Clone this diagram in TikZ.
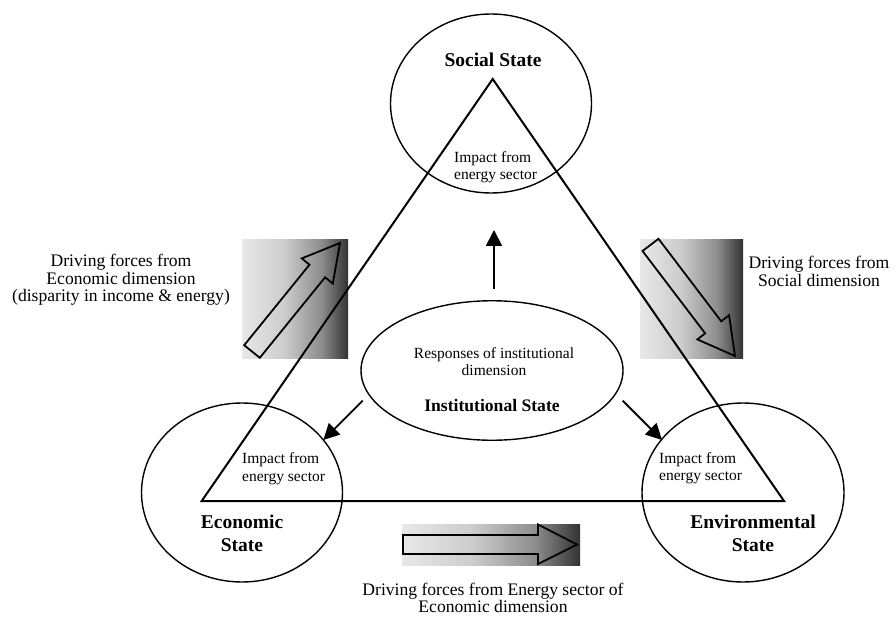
\documentclass[tikz,border=0pt]{standalone}
\usepackage{fontspec}
\setmainfont{Liberation Serif}
\usetikzlibrary{shapes.geometric,arrows.meta,calc}
\definecolor{shA}{gray}{0.91}
\definecolor{shB}{gray}{0.80}
\definecolor{shC}{gray}{0.55}
\definecolor{shD}{gray}{0.20}
\pgfdeclarehorizontalshading{drivershade}{100bp}{color(0bp)=(shA); color(25bp)=(shA); color(45bp)=(shB); color(62.5bp)=(shC); color(75bp)=(shD); color(100bp)=(shD)}
\begin{document}
\begin{tikzpicture}[x=1pt,y=-1pt,
  stateell/.style={draw, ellipse, line width=1.4pt, inner sep=0pt},
  triline/.style={line width=2pt},
  shadebox/.style={shading=drivershade, draw=none},
  bigarrow/.style={line width=1.8pt, line join=miter},
  smallarrow/.style={line width=1.8pt, -{Triangle[length=16pt,width=16pt]}},
  plain/.style={font=\fontsize{15.5}{17.5}\selectfont, inner sep=0pt},
  drive/.style={font=\fontsize{17.6}{17.5}\selectfont, align=center, inner sep=0pt},
  statelbl/.style={font=\fontsize{19.5}{23}\selectfont\bfseries, align=center, inner sep=0pt}
]
\useasboundingbox (0,0) rectangle (896,628);

% gradient boxes
\shade[shadebox] (242,240) rectangle (348,358);
\shade[shadebox] (640,240) rectangle (743,358);
\shade[shadebox] (402,524) rectangle (580,565);

% triangle
\coordinate (apex) at (492.7,79);
\coordinate (bl) at (201.7,501);
\coordinate (br) at (784,501);
\draw[triline] (apex) -- (bl) -- (br) -- cycle;

% ellipses
\node[stateell, minimum width=201pt, minimum height=179pt] (soc) at (491,103.5) {};
\node[stateell, minimum width=201pt, minimum height=179pt] (eco) at (242,492.5) {};
\node[stateell, minimum width=202pt, minimum height=179pt] (env) at (743,492.5) {};
\node[stateell, minimum width=262pt, minimum height=139.5pt] (inst) at (492,370.5) {};

% big driving arrows (outlines)
\draw[bigarrow] (244.2,345.2) -- (309.5,264.7) -- (301.8,258.4) -- (340,243)
  -- (332.8,283.6) -- (325.1,277.3) -- (259.8,357.8) -- cycle;
\draw[bigarrow] (658.5,238.8) -- (721.2,321.3) -- (729.1,315.2) -- (735,356)
  -- (697.3,339.4) -- (705.2,333.4) -- (642.5,251) -- cycle;
\draw[bigarrow] (403,535) -- (538,535) -- (538,524.5) -- (577,544.5)
  -- (538,564) -- (538,554) -- (403,554) -- cycle;

% small response arrows
\coordinate (upS) at (494,289);
\coordinate (upE) at (494,230);
\coordinate (lS) at (362.7,400.7);
\coordinate (lE) at (323.3,440);
\coordinate (rS) at (622.7,400.7);
\coordinate (rE) at (662,440);
\draw[smallarrow] (upS) -- (upE);
\draw[smallarrow] (lS) -- (lE);
\draw[smallarrow] (rS) -- (rE);

% labels
\node[statelbl] (socl) at (493,60) {Social State};
\node[plain, align=left, anchor=west] (soci) at (454,167) {Impact from\\energy sector};
\node[plain, align=left, anchor=west] (ecoi) at (242,468.5) {Impact from\\energy sector};
\node[plain, align=left, anchor=west] (envi) at (659,468) {Impact from\\energy sector};
\node[statelbl] (ecol) at (242,533.5) {Economic\\State};
\node[statelbl] (envl) at (753,533.5) {Environmental\\State};
\node[plain, align=center] (instr) at (494,361.5) {Responses of institutional\\dimension};
\node[font=\fontsize{17.6}{20}\selectfont\bfseries, inner sep=0pt] (instl) at (492,405) {Institutional State};
\node[drive] (drvL) at (121,280) {Driving forces from\\Economic dimension\\(disparity in income \& energy)};
\node[drive] (drvR) at (819,271.5) {Driving forces from\\Social dimension};
\node[drive] (drvB) at (493,598) {Driving forces from Energy sector of\\Economic dimension};
\end{tikzpicture}
\end{document}
